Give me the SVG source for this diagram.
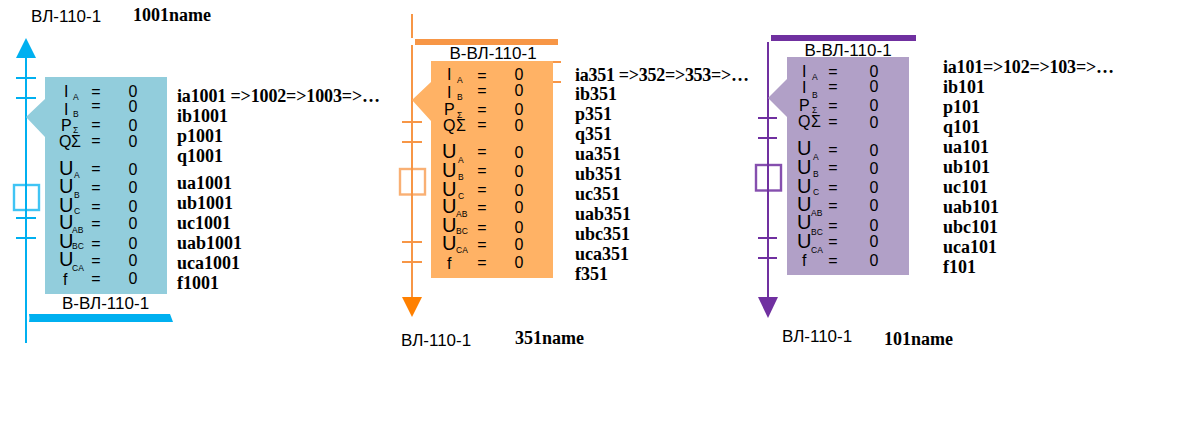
<svg xmlns="http://www.w3.org/2000/svg" width="1184" height="424" viewBox="0 0 1184 424">
<style>
text{font-family:"Liberation Sans",Arial,sans-serif;fill:#000}
.n{font-size:17px}
.b{font-size:17px;text-anchor:middle}
.t{font-size:16px}
.c{font-size:16px;text-anchor:middle}
.u{font-size:20px}
.s{font-size:8.500px}
.v{font-family:"Liberation Serif","Times New Roman",serif;font-weight:bold;font-size:18px}
.l1{stroke:#00b0f0;stroke-width:2;fill:none}
.l2{stroke:#f79646;stroke-width:2;fill:none}
.l3{stroke:#7030a0;stroke-width:2;fill:none}
</style>
<g id="connectors">
<path class="l1" d="M26 58V343M16 78H36M16 98H36M16 218H36M16 238H36"/>
<rect x="14" y="185" width="25" height="25" fill="none" stroke="#00b0f0" stroke-opacity=".75" stroke-width="2.400"/>
<path class="l2" d="M412 14V38M412 45V297M402 122H422M402 142H422M402 242H422M402 262H422M553 62H561M553 82H561"/>
<rect x="400" y="169" width="25" height="25.500" fill="none" stroke="#f79646" stroke-opacity=".75" stroke-width="2.400"/>
<path class="l3" d="M768 42V297M758 118H777M758 138H777M758 238H777M758 258H777"/>
<rect x="756" y="165" width="25" height="25.500" fill="none" stroke="#7030a0" stroke-opacity=".85" stroke-width="2.400"/>
</g>
<g id="panel-1001">
<path fill="#92cddc" d="M45 77H167V294H45V137L26 117L45 99Z"/>
<path fill="#00b0f0" d="M26 38L36 58H16Z"/>
<path fill="#00b0f0" d="M29 314H170L173 322H29Q30 318 29 314Z"/>
<text class="n" x="31" y="22">ВЛ-110-1</text>
<text class="v" x="133" y="21">1001name</text>
<text class="b" x="105.500" y="309">В-ВЛ-110-1</text>
<text class="t" x="64" y="97">I</text><text class="s" x="73" y="100">A</text><text class="c" x="96" y="97">=</text><text class="c" x="133" y="97">0</text>
<text class="t" x="64" y="115">I</text><text class="s" x="73" y="117">B</text><text class="c" x="96" y="111">=</text><text class="c" x="133" y="112">0</text>
<text class="t" x="61" y="131">P</text><text class="s" x="73" y="133">Σ</text><text class="c" x="96" y="130">=</text><text class="c" x="133" y="131">0</text>
<text class="t" x="59" y="147">Q</text><text class="t" x="71" y="147">Σ</text><text class="c" x="96" y="146">=</text><text class="c" x="133" y="147">0</text>
<text class="u" x="59" y="175">U</text><text class="s" x="74" y="178">A</text><text class="c" x="96" y="174">=</text><text class="c" x="133" y="175">0</text>
<text class="u" x="59" y="193">U</text><text class="s" x="74" y="198">B</text><text class="c" x="96" y="193">=</text><text class="c" x="133" y="193">0</text>
<text class="u" x="59" y="212">U</text><text class="s" x="74" y="214">C</text><text class="c" x="96" y="212">=</text><text class="c" x="133" y="212">0</text>
<text class="u" x="59" y="229">U</text><text class="s" x="72" y="233">AB</text><text class="c" x="96" y="229">=</text><text class="c" x="133" y="229">0</text>
<text class="u" x="59" y="248">U</text><text class="s" x="72" y="249">BC</text><text class="c" x="96" y="249">=</text><text class="c" x="133" y="249">0</text>
<text class="u" x="59" y="266">U</text><text class="s" x="72" y="271">CA</text><text class="c" x="96" y="266">=</text><text class="c" x="133" y="266">0</text>
<text class="t" x="63" y="285">f</text><text class="c" x="96" y="284">=</text><text class="c" x="133" y="284">0</text>
<text class="v" x="177" y="102" textLength="203" lengthAdjust="spacing">ia1001 =&gt;1002=&gt;1003=&gt;…</text>
<text class="v" x="177" y="122">ib1001</text><text class="v" x="177" y="142">p1001</text><text class="v" x="177" y="162">q1001</text>
<text class="v" x="177" y="189">ua1001</text><text class="v" x="177" y="209">ub1001</text><text class="v" x="177" y="229">uc1001</text>
<text class="v" x="177" y="249">uab1001</text><text class="v" x="177" y="269">uca1001</text><text class="v" x="177" y="289">f1001</text>
</g>
<g id="panel-351">
<path fill="#ffb265" d="M431 61H553V278H431V121L412 100L431 82Z"/>
<path fill="#ff8000" d="M402 297H422L412 317Z"/>
<rect x="415" y="39" width="143" height="6" fill="#f79646"/>
<text class="n" x="401" y="346">ВЛ-110-1</text>
<text class="v" x="515" y="344">351name</text>
<text class="b" x="493" y="59">В-ВЛ-110-1</text>
<text class="t" x="447" y="80">I</text><text class="s" x="457" y="83">A</text><text class="c" x="482" y="81">=</text><text class="c" x="519" y="80">0</text>
<text class="t" x="447" y="98">I</text><text class="s" x="457" y="100">B</text><text class="c" x="482" y="96">=</text><text class="c" x="519" y="96">0</text>
<text class="t" x="444" y="115">P</text><text class="s" x="457" y="118">Σ</text><text class="c" x="482" y="115">=</text><text class="c" x="519" y="115">0</text>
<text class="t" x="443" y="131">Q</text><text class="t" x="456" y="131">Σ</text><text class="c" x="482" y="130">=</text><text class="c" x="519" y="131">0</text>
<text class="u" x="442" y="158">U</text><text class="s" x="458" y="163">A</text><text class="c" x="482" y="157">=</text><text class="c" x="519" y="158">0</text>
<text class="u" x="442" y="177">U</text><text class="s" x="458" y="180">B</text><text class="c" x="482" y="176">=</text><text class="c" x="519" y="177">0</text>
<text class="u" x="442" y="196">U</text><text class="s" x="458" y="199">C</text><text class="c" x="482" y="195">=</text><text class="c" x="519" y="196">0</text>
<text class="u" x="442" y="213">U</text><text class="s" x="456" y="217">AB</text><text class="c" x="482" y="213">=</text><text class="c" x="519" y="213">0</text>
<text class="u" x="442" y="232">U</text><text class="s" x="456" y="234">BC</text><text class="c" x="482" y="233">=</text><text class="c" x="519" y="233">0</text>
<text class="u" x="442" y="250">U</text><text class="s" x="456" y="253">CA</text><text class="c" x="482" y="250">=</text><text class="c" x="519" y="250">0</text>
<text class="t" x="447" y="269">f</text><text class="c" x="482" y="268">=</text><text class="c" x="519" y="268">0</text>
<text class="v" x="575" y="81" textLength="174" lengthAdjust="spacing">ia351 =&gt;352=&gt;353=&gt;…</text>
<text class="v" x="575" y="100">ib351</text><text class="v" x="575" y="120">p351</text><text class="v" x="575" y="140">q351</text>
<text class="v" x="575" y="160">ua351</text><text class="v" x="575" y="180">ub351</text><text class="v" x="575" y="200">uc351</text>
<text class="v" x="575" y="220">uab351</text><text class="v" x="575" y="240">ubc351</text><text class="v" x="575" y="260">uca351</text><text class="v" x="575" y="280">f351</text>
</g>
<g id="panel-101">
<path fill="#b1a0c7" d="M787 57H909V275H787V117L768 98L787 79Z"/>
<path fill="#7030a0" d="M758 297H778L768 318Z"/>
<rect x="771" y="35" width="145" height="6" fill="#7030a0"/>
<text class="n" x="782" y="342">ВЛ-110-1</text>
<text class="v" x="884" y="345">101name</text>
<text class="b" x="848" y="56">В-ВЛ-110-1</text>
<text class="t" x="802" y="77">I</text><text class="s" x="812" y="80">A</text><text class="c" x="833" y="77">=</text><text class="c" x="874" y="77">0</text>
<text class="t" x="802" y="93">I</text><text class="s" x="812" y="98">B</text><text class="c" x="833" y="92">=</text><text class="c" x="874" y="92">0</text>
<text class="t" x="799" y="111">P</text><text class="s" x="812" y="113">Σ</text><text class="c" x="833" y="111">=</text><text class="c" x="874" y="111">0</text>
<text class="t" x="798" y="127">Q</text><text class="t" x="811" y="127">Σ</text><text class="c" x="833" y="127">=</text><text class="c" x="874" y="128">0</text>
<text class="u" x="797" y="155">U</text><text class="s" x="813" y="160">A</text><text class="c" x="833" y="155">=</text><text class="c" x="874" y="156">0</text>
<text class="u" x="797" y="174">U</text><text class="s" x="813" y="177">B</text><text class="c" x="833" y="173">=</text><text class="c" x="874" y="174">0</text>
<text class="u" x="797" y="193">U</text><text class="s" x="813" y="195">C</text><text class="c" x="833" y="193">=</text><text class="c" x="874" y="193">0</text>
<text class="u" x="797" y="211">U</text><text class="s" x="811" y="216">AB</text><text class="c" x="833" y="211">=</text><text class="c" x="874" y="211">0</text>
<text class="u" x="797" y="229">U</text><text class="s" x="811" y="235">BC</text><text class="c" x="833" y="231">=</text><text class="c" x="874" y="231">0</text>
<text class="u" x="797" y="248">U</text><text class="s" x="811" y="253">CA</text><text class="c" x="833" y="247">=</text><text class="c" x="874" y="247">0</text>
<text class="t" x="802" y="266">f</text><text class="c" x="833" y="266">=</text><text class="c" x="874" y="266">0</text>
<text class="v" x="943" y="73" textLength="171" lengthAdjust="spacing">ia101=&gt;102=&gt;103=&gt;…</text>
<text class="v" x="943" y="93">ib101</text><text class="v" x="943" y="113">p101</text><text class="v" x="943" y="133">q101</text>
<text class="v" x="943" y="153">ua101</text><text class="v" x="943" y="173">ub101</text><text class="v" x="943" y="193">uc101</text>
<text class="v" x="943" y="213">uab101</text><text class="v" x="943" y="233">ubc101</text><text class="v" x="943" y="253">uca101</text><text class="v" x="943" y="273">f101</text>
</g>
</svg>
